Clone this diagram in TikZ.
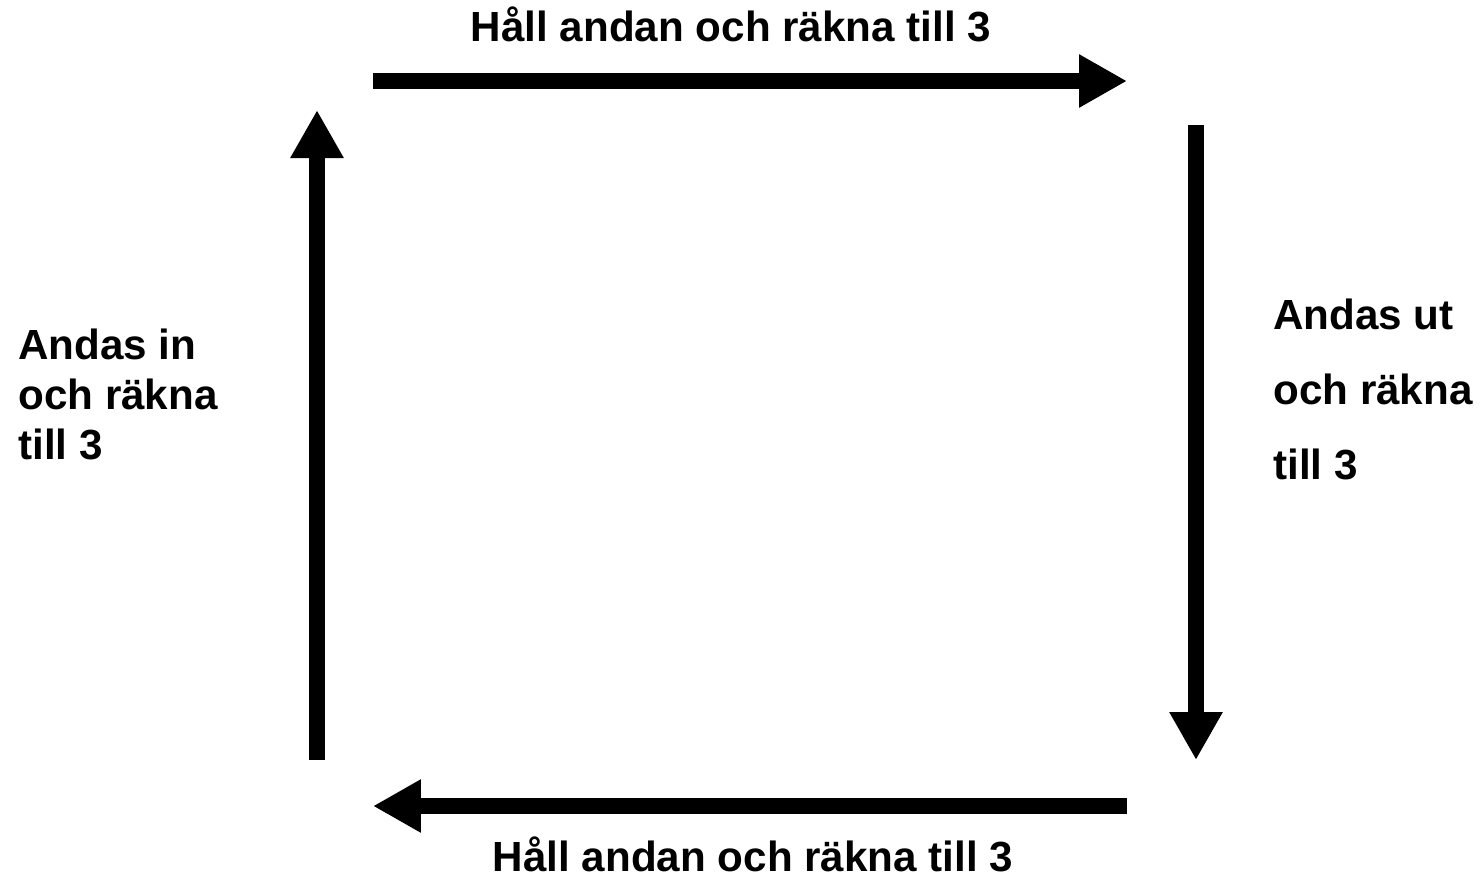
\documentclass[tikz,border=0pt]{standalone}
\usepackage{fontspec}
\setmainfont{Liberation Sans}
\usetikzlibrary{arrows.meta}

\tikzset{
  fatarrow/.style={line width=0.32cm,-{Triangle[length=0.96cm,width=1cm]}},
  steplabel/.style={inner sep=0pt,font=\bfseries\fontsize{24}{28.4}\selectfont},
  widelabel/.style={steplabel,font=\bfseries\fontsize{24}{42.5}\selectfont}
}

\begin{document}
\begin{tikzpicture}[x=0.02cm,y=-0.02cm]
\useasboundingbox (0,0) rectangle (1483,877);
% corners of the breathing square
\coordinate (topL) at (373,81);
\coordinate (topR) at (1127,81);
\coordinate (rightT) at (1196,125);
\coordinate (rightB) at (1196,760);
\coordinate (botR) at (1127,806);
\coordinate (botL) at (373,806);
\coordinate (leftB) at (317,760);
\coordinate (leftT) at (317,110);
\draw[fatarrow] (topL) -- (topR);
\draw[fatarrow] (rightT) -- (rightB);
\draw[fatarrow] (botR) -- (botL);
\draw[fatarrow] (leftB) -- (leftT);
% labels
\draw (731,41) node[steplabel,anchor=base](holdtop) {Håll andan och räkna till 3};
\draw (753,871) node[steplabel,anchor=base](holdbot) {Håll andan och räkna till 3};
\draw (18,329) node[steplabel,anchor=north west,align=left](inhale) {Andas in\\och räkna\\till 3};
\draw (1273,299) node[widelabel,anchor=north west,align=left](exhale) {Andas ut\\och räkna\\till 3};
\end{tikzpicture}
\end{document}
